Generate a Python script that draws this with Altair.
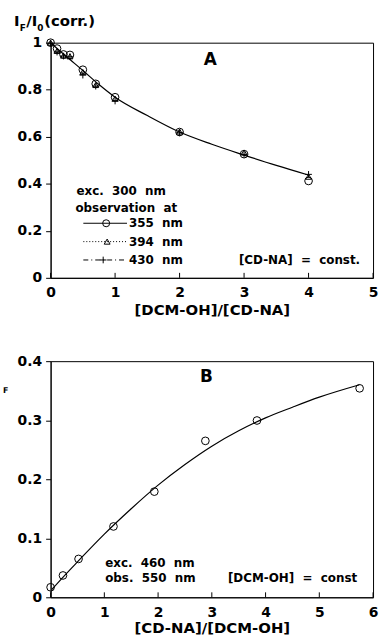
import altair as alt
import pandas as pd

# ---------------- data: panel A ----------------
a_x = [0, 0.1, 0.2, 0.3, 0.5, 0.7, 1, 2, 3, 4]
a_355 = [1.0, 0.975, 0.95, 0.948, 0.885, 0.825, 0.768, 0.62, 0.526, 0.412]
a_394 = [1.0, 0.965, 0.945, 0.942, 0.875, 0.82, 0.762, 0.622, 0.533, 0.43]
a_430 = [0.998, 0.96, 0.943, 0.94, 0.862, 0.815, 0.752, 0.617, 0.525, 0.44]
a_fit_x = [0, 0.25, 0.5, 0.75, 1, 1.5, 2, 2.5, 3, 3.5, 4]
a_fit_y = [1.0, 0.94, 0.882, 0.822, 0.768, 0.69, 0.62, 0.568, 0.522, 0.478, 0.437]
a_xticks = [0, 1, 2, 3, 4, 5]
a_yticks = [0, 0.2, 0.4, 0.6, 0.8, 1]

# ---------------- data: panel B ----------------
b_x = [0, 0.23, 0.52, 1.17, 1.93, 2.88, 3.84, 5.75]
b_y = [0.017, 0.037, 0.065, 0.12, 0.179, 0.265, 0.2995, 0.354]
b_fit_x = [0.02, 0.25, 0.5, 1, 1.5, 2, 2.5, 3, 3.5, 4, 4.5, 5, 5.75]
b_fit_y = [0.013, 0.036, 0.06, 0.107, 0.15, 0.19, 0.225, 0.256, 0.282, 0.304, 0.322, 0.339, 0.36]
b_xticks = [0, 1, 2, 3, 4, 5, 6]
b_yticks = [0, 0.1, 0.2, 0.3, 0.4]

FONT = "DejaVu Sans"
NB = "\u00a0"
W, HA, HB = 325, 237, 238
PLUS = "M-1,0L1,0M0,-1L0,1"


def txt(s, x, y, size=12, align="left", baseline="middle"):
    return alt.Chart(pd.DataFrame({"k": [0]})).mark_text(
        align=align, baseline=baseline, font=FONT, fontSize=size,
        fontWeight="bold", color="black"
    ).encode(x=alt.value(x), y=alt.value(y), text=alt.value(s))


def seg(x1, x2, y, dash=None):
    kw = dict(color="black", strokeWidth=1)
    if dash:
        kw["strokeDash"] = dash
    return alt.Chart(pd.DataFrame({"k": [0]})).mark_rule(**kw).encode(
        x=alt.value(x1), x2=alt.value(x2), y=alt.value(y))


def sym(shape, x, y, size):
    return alt.Chart(pd.DataFrame({"k": [0]})).mark_point(
        shape=shape, filled=False, color="black", size=size, strokeWidth=1, opacity=1
    ).encode(x=alt.value(x), y=alt.value(y))


# ---------------- panel A ----------------
xa = alt.X("x:Q", scale=alt.Scale(domain=[0, 5], nice=False),
           axis=alt.Axis(values=a_xticks, format="d", tickSize=0, labelPadding=8,
                         title="[DCM-OH]/[CD-NA]", titlePadding=3))
ya = alt.Y("y:Q", scale=alt.Scale(domain=[0, 1], nice=False),
           axis=alt.Axis(values=a_yticks, format="~g", tickSize=5, labelPadding=4, title=None))

fitA = alt.Chart(pd.DataFrame({"x": a_fit_x, "y": a_fit_y})).mark_line(
    color="black", strokeWidth=1.2, interpolate="monotone").encode(x=xa, y=ya)
p355 = alt.Chart(pd.DataFrame({"x": a_x, "y": a_355})).mark_point(
    shape="circle", filled=False, color="black", size=60, strokeWidth=1, opacity=1).encode(x=xa, y=ya)
p394 = alt.Chart(pd.DataFrame({"x": a_x, "y": a_394})).mark_point(
    shape="triangle-up", filled=False, color="black", size=35, strokeWidth=1, opacity=1).encode(x=xa, y=ya)
p430 = alt.Chart(pd.DataFrame({"x": a_x, "y": a_430})).mark_point(
    shape=PLUS, filled=False, color="black", size=45, strokeWidth=1, opacity=1).encode(x=xa, y=ya)
ticksA = alt.Chart(pd.DataFrame({"x": a_xticks})).mark_rule(color="black").encode(
    x=xa, y=alt.value(HA), y2=alt.value(HA - 5))

A = alt.layer(
    fitA, p355, p394, p430, ticksA,
    txt("A", 161, 17, size=17, align="center"),
    txt(f"exc.{NB}{NB}300{NB}{NB}nm", 26, 150),
    txt(f"observation{NB}{NB}at", 25, 166.5),
    seg(33, 77, 182), sym("circle", 56, 182, 50), txt(f"355{NB}{NB}nm", 79, 182),
    seg(33, 77, 200.5, [1, 2]), sym("triangle-up", 57, 200.5, 35), txt(f"394{NB}{NB}nm", 79, 200.5),
    seg(33, 77, 219, [5, 3, 1, 3]), sym(PLUS, 53, 219, 45), txt(f"430{NB}{NB}nm", 79, 219),
    txt(f"[CD-NA]{NB}{NB}={NB}{NB}const.", 312, 219, align="right"),
    txt("I", -37, -21.6, size=15),
    txt("F", -31, -15, size=9),
    txt("/", -24.5, -21.6, size=15),
    txt("I", -19, -21.6, size=15),
    txt("0", -13.5, -15, size=9),
    txt("(corr.)", -6.5, -21.6, size=15),
).properties(width=W, height=HA)

# ---------------- panel B ----------------
xb = alt.X("x:Q", scale=alt.Scale(domain=[0, 6], nice=False),
           axis=alt.Axis(values=b_xticks, format="d", tickSize=0, labelPadding=8,
                         title="[CD-NA]/[DCM-OH]", titlePadding=1))
yb = alt.Y("y:Q", scale=alt.Scale(domain=[0, 0.4], nice=False),
           axis=alt.Axis(values=b_yticks, format="~g", tickSize=5, labelPadding=4, title=None))

fitB = alt.Chart(pd.DataFrame({"x": b_fit_x, "y": b_fit_y})).mark_line(
    color="black", strokeWidth=1.2, interpolate="monotone").encode(x=xb, y=yb)
ptsB = alt.Chart(pd.DataFrame({"x": b_x, "y": b_y})).mark_point(
    shape="circle", filled=False, color="black", size=60, strokeWidth=1, opacity=1).encode(x=xb, y=yb)
ticksB = alt.Chart(pd.DataFrame({"x": b_xticks})).mark_rule(color="black").encode(
    x=xb, y=alt.value(HB), y2=alt.value(HB - 5))

B = alt.layer(
    fitB, ptsB, ticksB,
    txt("B", 157, 16, size=17, align="center"),
    txt(f"exc.{NB}{NB}460{NB}{NB}nm", 55, 203),
    txt(f"obs.{NB}{NB}550{NB}{NB}nm", 55, 218.5),
    txt(f"[DCM-OH]{NB}{NB}={NB}{NB}const", 309, 218.5, align="right"),
    txt("F", -48, 30, size=8),
).properties(width=W, height=HB)

chart = alt.vconcat(A, B, spacing=35).properties(
    padding={"left": 2, "top": 10.5, "right": 0, "bottom": 0},
    background="white",
).configure_view(stroke="black", strokeWidth=1).configure_axis(
    labelFont=FONT, labelFontWeight="bold", labelFontSize=14, labelColor="black",
    titleFont=FONT, titleFontWeight="bold", titleFontSize=15, titleColor="black",
    domainColor="black", tickColor="black", grid=False, labelFlush=False,
)

chart.save("out.html", embed_options={"renderer": "svg", "actions": False})
